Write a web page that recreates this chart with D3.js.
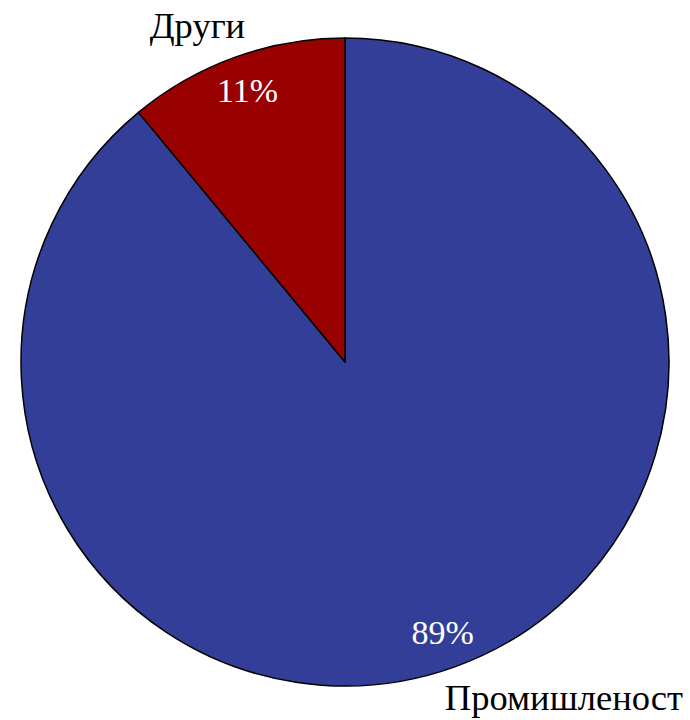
<!DOCTYPE html>
<html lang="bg">
<head>
  <meta charset="UTF-8">
  <title></title>
  <style>
    html, body {
      margin: 0;
      overflow: hidden;
      width: 100%;
      height: 100%;
      background: #ffffff;
    }
    svg {
      position: absolute;
      top: 0;
      left: 0;
    }
  </style>
</head>
<body>
  <svg width="690" height="720"></svg>
</body>
<script src="https://d3js.org/d3.v7.min.js"></script>
<script type="text/javascript">
  const categories = ['Промишленост', 'Други']
  const values = [89, 11]
  const percentLabels = ['89%', '11%']
  const colors = ['#333e99', '#990000']

  const svg = d3.select('svg')
  const cx = 345
  const cy = 362
  const radius = 324

  const pie = d3.pie().sort(null).value(d => d.value)
  const slices = pie(categories.map((c, i) => ({ name: c, value: values[i], label: percentLabels[i], color: colors[i] })))

  const arc = d3.arc().innerRadius(0).outerRadius(radius)
  const inLabel = d3.arc().innerRadius(288).outerRadius(288)
  const outLabel = d3.arc().innerRadius(345).outerRadius(345)

  const g = svg.append('g').attr('transform', `translate(${cx},${cy})`)

  // slices
  g.selectAll('path')
    .data(slices)
    .enter().append('path')
      .attr('d', arc)
      .attr('fill', d => d.data.color)
      .attr('stroke', '#000')
      .attr('stroke-width', 1.5)
      .attr('stroke-linejoin', 'round')

  // percentages inside
  g.selectAll('text.pct')
    .data(slices)
    .enter().append('text')
      .attr('class', 'pct')
      .attr('x', d => inLabel.centroid(d)[0])
      .attr('y', d => inLabel.centroid(d)[1])
      .attr('dy', '0.33em')
      .attr('text-anchor', 'middle')
      .attr('fill', '#fff')
      .style('font-family', '"Liberation Serif", "Times New Roman", serif')
      .style('font-size', '34px')
      .text(d => d.data.label)

  // category names outside
  const isTop = d => outLabel.centroid(d)[1] < 0
  g.selectAll('text.cat')
    .data(slices)
    .enter().append('text')
      .attr('class', 'cat')
      .attr('x', d => outLabel.centroid(d)[0])
      .attr('y', d => outLabel.centroid(d)[1])
      .attr('dx', d => isTop(d) ? 17 : -17)
      .attr('dy', d => isTop(d) ? 1 : 23)
      .attr('text-anchor', d => isTop(d) ? 'end' : 'start')
      .attr('fill', '#000')
      .style('font-family', '"Liberation Serif", "Times New Roman", serif')
      .style('font-size', '36.5px')
      .text(d => d.data.name)
</script>
</html>
